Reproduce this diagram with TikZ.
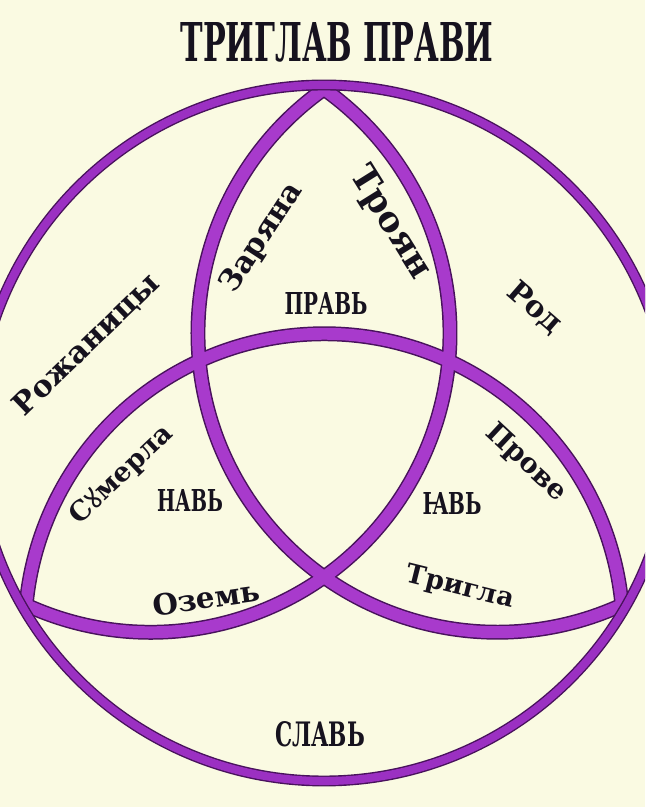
\documentclass[tikz,border=0pt]{standalone}
\usepackage{fontspec}
\setmainfont{DejaVu Serif}
\newfontfamily\titlefont{DejaVu Serif Condensed}
\newfontfamily\extfont{Noto Sans}
\usepackage{graphicx}
\usetikzlibrary{calc}
\definecolor{bg}{RGB}{250,250,226}
\definecolor{band}{RGB}{168,58,204}
\definecolor{ringc}{RGB}{155,48,194}
\definecolor{edge}{RGB}{72,18,92}
\definecolor{ink}{RGB}{22,18,30}
\newlength\pxu \setlength\pxu{0.02cm}
\newcommand\capw[3]{\resizebox{#1\pxu}{#2\pxu}{\bfseries #3}}
\newcommand\wordw[2]{\resizebox{#1\pxu}{!}{\bfseries #2}}
\newcommand\triqarcs[1]{%
  \draw[#1] (A) arc[start angle=125.37, end angle=294.63, radius=299.23];
  \draw[#1] (L) arc[start angle=245.37, end angle=414.63, radius=299.23];
  \draw[#1] (R) arc[start angle=5.37, end angle=174.63, radius=299.23];
}
\begin{document}
\begin{tikzpicture}[x=0.02cm,y=0.02cm,
  lbl/.style={inner sep=0pt, text=ink},
  bandout/.style={draw=edge, line width=8.5pt},
  bandin/.style={draw=band, line width=6.8pt},
  ringout/.style={draw=edge, line width=6.2pt},
  ringin/.style={draw=ringc, line width=4.6pt}]
\fill[bg] (0,0) rectangle (645,807);
\path[use as bounding box] (0,0) rectangle (645,807);
\clip (0,0) rectangle (645,807);
\coordinate (O) at (324,374);
\coordinate (A) at ($(O)+(90:344)$);
\coordinate (L) at ($(O)+(210:344)$);
\coordinate (R) at ($(O)+(330:344)$);
\begin{scope}
  \clip (O) circle[radius=350];
  \triqarcs{bandout}
  \triqarcs{bandin}
\end{scope}
\draw[ringout] (O) circle[radius=348];
\draw[ringin] (O) circle[radius=348];
% labels
\node[lbl] (title) at (337,765) {\titlefont\capw{313}{39}{ТРИГЛАВ ПРАВИ}};
\node[lbl] (prav) at (326,503) {\capw{83}{22}{ПРАВЬ}};
\node[lbl] (nav) at (190,306) {\capw{66}{22}{НАВЬ}};
\node[lbl] (yav) at (452,303) {\capw{59}{22}{ꙖВЬ}};
\node[lbl] (slav) at (320,73) {\capw{90}{25}{СЛАВЬ}};
\node[lbl, rotate=57] (zar) at (262,569) {\wordw{125}{Заряна}};
\node[lbl, rotate=-58] (troy) at (390,584) {\wordw{125}{Троян}};
\node[lbl, rotate=44] (rozh) at (87,462) {\wordw{190}{Рожаницы}};
\node[lbl, rotate=-41] (rod) at (535,499) {\wordw{62}{Род}};
\node[lbl, rotate=43.5] (sum) at (122,332) {\wordw{130}{С{\extfont\bfseries ꙋ}мерла}};
\node[lbl, rotate=-43] (prove) at (526,344) {\wordw{100}{Прове}};
\node[lbl, rotate=8] (ozem) at (206,209) {\wordw{108}{Оземь}};
\node[lbl, rotate=-14] (trig) at (460,219) {\wordw{110}{Тригла}};
\end{tikzpicture}
\end{document}
